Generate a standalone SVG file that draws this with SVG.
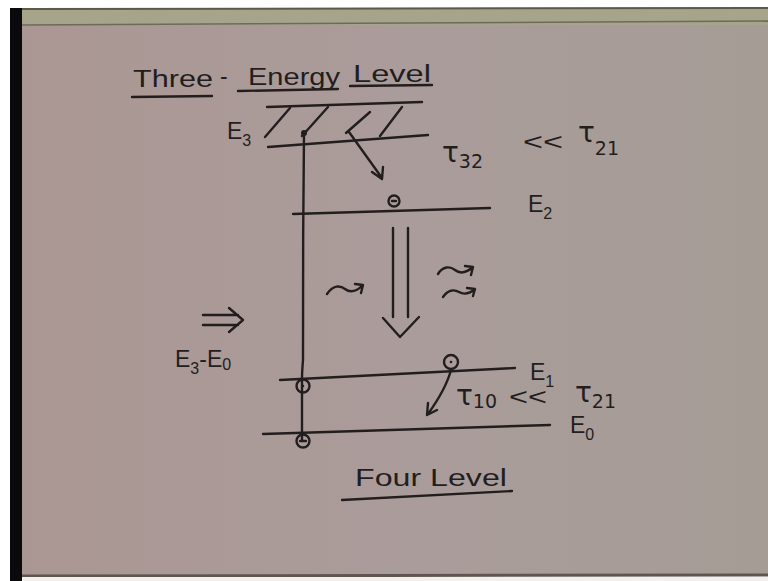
<svg xmlns="http://www.w3.org/2000/svg" width="768" height="581" viewBox="0 0 768 581">
<defs>
<style>
.ink{stroke:#231e1e;stroke-width:2.4;fill:none;stroke-linecap:round;stroke-linejoin:round}
.t{font-family:"Liberation Sans",Arial,sans-serif;fill:#231e1e;font-size:23px}
.s{font-size:16px}
.tau{font-family:"DejaVu Sans","Liberation Sans",sans-serif;font-size:28px}
.sub{font-size:19px}
</style>
<linearGradient id="board" x1="0" y1="0" x2="1" y2="0">
<stop offset="0" stop-color="#aa9793"/>
<stop offset="0.5" stop-color="#aa9c9b"/>
<stop offset="1" stop-color="#a69c96"/>
</linearGradient>
</defs>
<rect width="768" height="581" fill="#ffffff"/>
<rect x="22" y="8" width="746" height="567" fill="url(#board)"/>
<rect x="22" y="9" width="746" height="16" fill="#a7a48c"/>
<line x1="22" y1="9" x2="768" y2="8" stroke="#5a5a4a" stroke-width="2"/>
<line x1="22" y1="25" x2="768" y2="21" stroke="#6e6a5a" stroke-width="1.5"/>
<rect x="10" y="8" width="12" height="573" fill="#0a0a0c"/>
<line x1="22" y1="576" x2="768" y2="575" stroke="#5e564e" stroke-width="3"/>
<rect x="22" y="577" width="746" height="4" fill="#f2f0ee"/>

<g id="title">
<text class="t" x="133" y="87" textLength="80" lengthAdjust="spacingAndGlyphs">Three</text>
<text class="t" x="220" y="84">-</text>
<text class="t" x="248" y="85" textLength="92" lengthAdjust="spacingAndGlyphs">Energy</text>
<text class="t" x="353" y="82" textLength="78" lengthAdjust="spacingAndGlyphs">Level</text>
<path class="ink" d="M132,97 L212,96 M238,91 L338,89 M350,86 L432,85"/>
</g>

<g id="E3">
<path class="ink" d="M267,107 L422,102 M268,147 L428,135"/>
<path class="ink" d="M290,108 L265,137 M328,107 L302,136 M370,112 L346,133 M402,107 L380,136"/>
<text class="t" x="227" y="139">E<tspan class="s" dy="7">3</tspan></text>
</g>

<g id="E2">
<path class="ink" d="M293,214 L490,208"/>
<circle class="ink" cx="394" cy="201" r="5.5" stroke-width="2"/>
<line class="ink" x1="392" y1="201" x2="396" y2="201" stroke-width="1.6"/>
<text class="t" x="528" y="212">E<tspan class="s" dy="7">2</tspan></text>
</g>

<g id="E1">
<path class="ink" d="M280,380 L515,368"/>
<circle class="ink" cx="451" cy="362" r="7" stroke-width="2"/>
<circle cx="451" cy="362" r="1.3" fill="#231e1e"/>
<text class="t" x="530" y="380">E<tspan class="s" dy="7">1</tspan></text>
</g>

<g id="E0">
<path class="ink" d="M263,434 L550,425"/>
<text class="t" x="570" y="433">E<tspan class="s" dy="7">0</tspan></text>
</g>

<g id="pump">
<path class="ink" d="M304,133 C303,200 303,300 303,360 C302,372 302,376 302,380 L302,440"/>
<circle cx="304" cy="133" r="3" fill="#231e1e"/>
<circle class="ink" cx="303" cy="386" r="6.5" stroke-width="2"/>
<circle cx="303" cy="386" r="1.2" fill="#231e1e"/>
<circle class="ink" cx="303" cy="441" r="6.5" stroke-width="2"/>
<line class="ink" x1="300" y1="441" x2="306" y2="441" stroke-width="1.6"/>
</g>

<g id="connectors">
<path class="ink" d="M349,132 L382,178 M372,172 L382,179 L383,167"/>
<path class="ink" d="M393,228 L393,317 M408,228 L408,317 M383,318 L400,337 L419,317"/>
<path class="ink" d="M451,370 C447,385 438,400 428,414 M428,403 L427,415 L437,410"/>
<path class="ink" d="M327,294 C333,285 340,285 345,289 C350,293 356,292 363,285 M355,284 L363,285 L361,293"/>
<path class="ink" d="M438,274 C443,266 450,266 455,270 C460,274 466,273 473,267 M465,266 L473,267 L471,275"/>
<path class="ink" d="M443,297 C448,290 454,289 459,292 C464,295 469,294 475,289 M467,288 L475,289 L473,296"/>
<path class="ink" d="M203,315 L238,315 M203,325 L238,325 M229,308 L243,320 L229,332"/>
</g>

<g id="labels">
<text class="t" x="175" y="367">E<tspan class="s" dy="7">3</tspan><tspan dy="-7">-E</tspan><tspan class="s" dy="3">0</tspan></text>
<text class="t tau" x="442" y="162">τ<tspan class="sub" dy="6">32</tspan></text>
<text class="t" x="523" y="150" textLength="40" lengthAdjust="spacingAndGlyphs">&lt;&lt;</text>
<text class="t tau" x="578" y="142">τ<tspan class="sub" dy="13">21</tspan></text>
<text class="t tau" x="456" y="405">τ<tspan class="sub" dy="3">10</tspan></text>
<text class="t" x="509" y="405" textLength="38" lengthAdjust="spacingAndGlyphs">&lt;&lt;</text>
<text class="t tau" x="575" y="402">τ<tspan class="sub" dy="6">21</tspan></text>
<text class="t" x="355" y="486" textLength="152" lengthAdjust="spacingAndGlyphs">Four Level</text>
<path class="ink" d="M342,500 L512,491"/>
</g>
</svg>
